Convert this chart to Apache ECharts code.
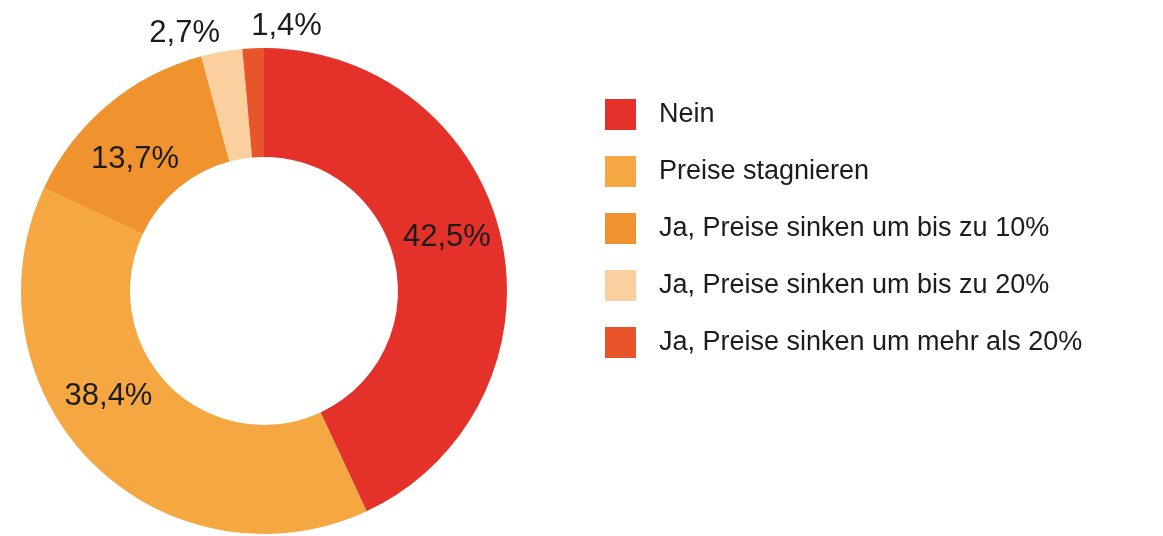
<!DOCTYPE html>
<html lang="de">
<head>
<meta charset="utf-8">
<title>Preisentwicklung</title>
<script src="https://cdn.jsdelivr.net/npm/echarts@6/dist/echarts.min.js"></script>
<style>
  html, body { margin: 0; padding: 0; background: #ffffff; }
  #chart { width: 1163px; height: 536px; }
</style>
</head>
<body>
<div id="chart"></div>
<script>
// Answer categories, in clockwise order starting at 12 o'clock
const categories = [
  'Nein',
  'Preise stagnieren',
  'Ja, Preise sinken um bis zu 10%',
  'Ja, Preise sinken um bis zu 20%',
  'Ja, Preise sinken um mehr als 20%'
];
// Share of answers in percent
const shares = [42.5, 38.4, 13.7, 2.7, 1.4];

const sliceColors = ['#e4322a', '#f5a742', '#f0922e', '#fccf9f', '#e8552b'];

// Label nudges relative to the slice's mid-ring point
const labelNudge = [
  [-4, -12],
  [-20, -30],
  [-6, 15],
  [-46, -69],
  [31, -73]
];

const fmt = v => v.toFixed(1).replace('.', ',') + '%';

const chart = echarts.init(document.getElementById('chart'), null, { renderer: 'canvas' });

chart.setOption({
  animation: false,
  backgroundColor: '#ffffff',
  legend: {
    orient: 'vertical',
    left: 605,
    top: 99,
    padding: 0,
    itemWidth: 31,
    itemHeight: 31,
    itemGap: 26,
    icon: 'rect',
    selectedMode: false,
    data: categories,
    textStyle: {
      fontFamily: '"Liberation Sans", Arial, sans-serif',
      fontSize: 27,
      color: '#1e1b1c',
      lineHeight: 31,
      padding: [0, 0, 0, 18]
    }
  },
  series: [{
    type: 'pie',
    center: [264, 291],
    radius: [134, 243],
    startAngle: 90,
    clockwise: true,
    avoidLabelOverlap: false,
    silent: true,
    label: {
      show: true,
      position: 'inside',
      fontFamily: '"Liberation Sans", Arial, sans-serif',
      fontSize: 31,
      color: '#1e1b1c',
      formatter: p => fmt(p.value)
    },
    labelLine: { show: false },
    data: categories.map((name, i) => ({
      name,
      value: shares[i],
      itemStyle: { color: sliceColors[i] },
      label: { offset: labelNudge[i] }
    }))
  }]
});
</script>
</body>
</html>
